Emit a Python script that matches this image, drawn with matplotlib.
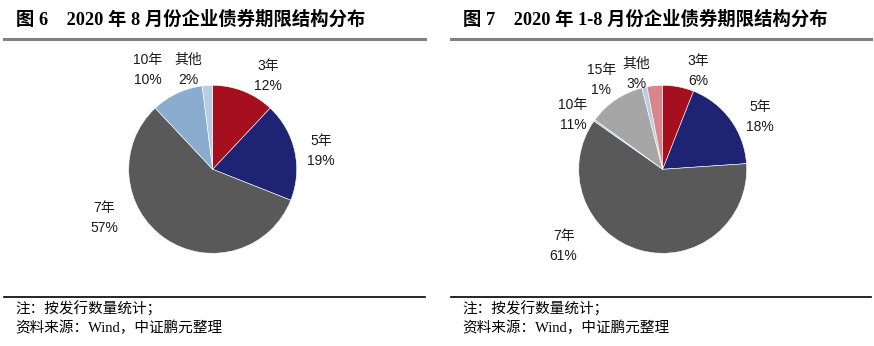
import matplotlib
matplotlib.use("Agg")
import matplotlib.pyplot as plt
from matplotlib.lines import Line2D

W, H = 874, 346
DPI = 100

# ---- data ----
titles = ["图 6    2020 年 8 月份企业债券期限结构分布", "图 7    2020 年 1-8 月份企业债券期限结构分布"]
left_cats = ["3年", "5年", "7年", "10年", "其他"]
left_vals = [12, 19, 57, 10, 2]
right_cats = ["3年", "5年", "7年", "20年", "10年", "15年", "其他"]
right_vals = [6, 18, 61, 0.3, 11, 1, 3]
right_labels = ["6%", "18%", "61%", "", "11%", "1%", "3%"]
left_labels = ["12%", "19%", "57%", "10%", "2%"]
note1 = "注：按发行数量统计；"
note2 = "资料来源：Wind，中证鹏元整理"

left_colors = ["#A50F1E", "#1F2373", "#595959", "#8AACCF", "#B9CDE2"]
right_colors = ["#A50F1E", "#1F2373", "#595959", "#8DB4E2", "#A6A6A6", "#B9CDE2", "#D9868A"]

# label positions (in pie radius units, relative to centre)
left_pos = [(0.66, 1.11), (1.29, 0.22), (-1.29, -0.58), (-0.77, 1.18), (-0.29, 1.18)]
right_pos = [(0.42, 1.17), (1.16, 0.62), (-1.18, -0.91), None, (-1.07, 0.65), (-0.73, 1.06), (-0.31, 1.13)]

fig = plt.figure(figsize=(W / DPI, H / DPI), dpi=DPI)

def px_axes(cx, cy, r):
    half = 2 * r
    return fig.add_axes([(cx - half) / W, 1 - (cy + half) / H, 2 * half / W, 2 * half / H])

R = 84
lab_font = ["Liberation Sans", "Noto Sans CJK SC"]

def draw_pie(cx, cy, vals, colors, cats, pcts, pos):
    ax = px_axes(cx, cy, R)
    ax.pie(vals, colors=colors, startangle=90, counterclock=False, radius=1,
           wedgeprops=dict(edgecolor="white", linewidth=0.4))
    ax.set_xlim(-2, 2)
    ax.set_ylim(-2, 2)
    ax.set_aspect("equal")
    ax.axis("off")
    for c, p, xy in zip(cats, pcts, pos):
        if xy is None or not p:
            continue
        ax.text(xy[0], xy[1], c + "\n" + p, ha="center", va="center", fontsize=10,
                family=lab_font, color="#1a1a1a", linespacing=1.55)

draw_pie(212.7, 169.3, left_vals, left_colors, left_cats, left_labels, left_pos)
draw_pie(662.7, 169.3, right_vals, right_colors, right_cats, right_labels, right_pos)

title_font = ["Liberation Serif", "Noto Sans CJK SC"]
for x0, x1, t in [(4, 425, titles[0]), (451, 871, titles[1])]:
    fig.text((x0 + 12) / W, 1 - 20 / H, t, ha="left", va="center", fontsize=13.2,
             fontweight="bold", family=title_font, color="black")
    fig.add_artist(Line2D([x0 / W, x1 / W], [1 - 38.5 / H, 1 - 38.5 / H], color="#808080", lw=2.2))
    fig.add_artist(Line2D([x0 / W, x1 / W], [1 - 296.5 / H, 1 - 296.5 / H], color="black", lw=1.2))
    fig.text((x0 + 11) / W, 1 - 309.5 / H, note1, ha="left", va="center", fontsize=10.5,
             family=title_font, color="black")
    fig.text((x0 + 11) / W, 1 - 327.5 / H, note2, ha="left", va="center", fontsize=10.5,
             family=title_font, color="black")

fig.savefig("out.png", dpi=DPI)
